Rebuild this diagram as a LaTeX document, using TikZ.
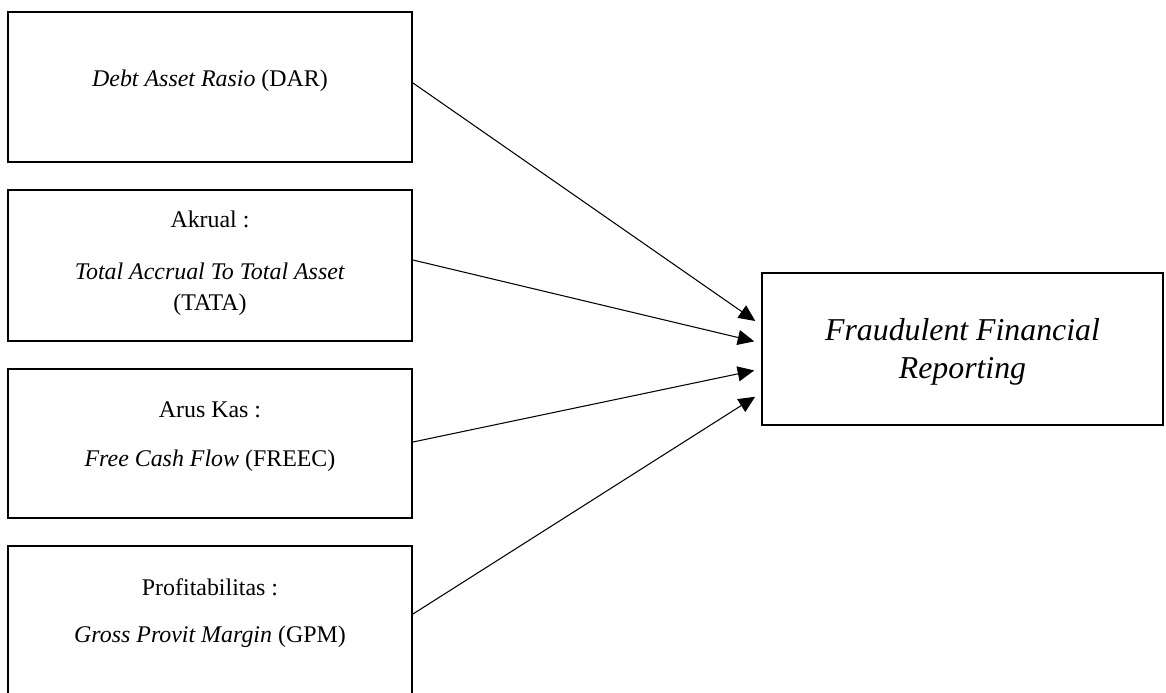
\documentclass[tikz,border=0pt]{standalone}
\usepackage{fontspec}
\setmainfont{Liberation Serif}
\usetikzlibrary{arrows.meta}

\begin{document}
\begin{tikzpicture}[
        box/.style={
            draw,
            line width=1.1pt,
            minimum width=8.08cm,
            minimum height=3cm
        },
        txt/.style={
            anchor=base,
            inner sep=0pt,
            font=\fontsize{13.6}{17.5}\selectfont
        },
        bigtxt/.style={
            align=center,
            inner sep=0pt,
            font=\fontsize{18.1}{21.5}\selectfont\itshape
        },
        arrow/.style={-{Triangle[length=3.3mm,width=3mm]}, line width=0.6pt, shorten >=0.14cm}
    ]
        \clip (0,0) rectangle (23.32,-13.86);

        \node[box] (dar) at (4.2,-1.74) {};
        \node[box, minimum height=3.02cm] (tata) at (4.2,-5.31) {};
        \node[box, minimum height=2.98cm] (freec) at (4.2,-8.87) {};
        \node[box] (gpm) at (4.2,-12.42) {};
        \node[box, minimum width=8.02cm, minimum height=3.04cm] (frr) at (19.25,-6.98) {};

        \node[txt] (darl) at (4.2,-1.74) {\textit{Debt Asset Rasio} (DAR)};
        \node[txt] (akrual) at (4.2,-4.56) {Akrual :};
        \node[txt, anchor=center, align=center] (tatal) at (4.2,-5.78) {\textit{Total Accrual To Total Asset}\\(TATA)};
        \node[txt] (aruskas) at (4.2,-8.34) {Arus Kas :};
        \node[txt] (freecl) at (4.2,-9.32) {\textit{Free Cash Flow} (FREEC)};
        \node[txt] (profit) at (4.2,-11.9) {Profitabilitas :};
        \node[txt] (gpml) at (4.2,-12.84) {\textit{Gross Provit Margin} (GPM)};
        \node[bigtxt] (frrl) at (19.25,-7.04) {Fraudulent Financial\\Reporting};

        \foreach \source/\from/\to in {dar/0.08/0.48,tata/0.11/0.12,freec/0.03/-0.40,gpm/0.14/-0.88} {
            \draw[arrow] ([yshift=\from cm]\source.east) -- ([yshift=\to cm]frr.west);
        }
    \end{tikzpicture}
\end{document}
